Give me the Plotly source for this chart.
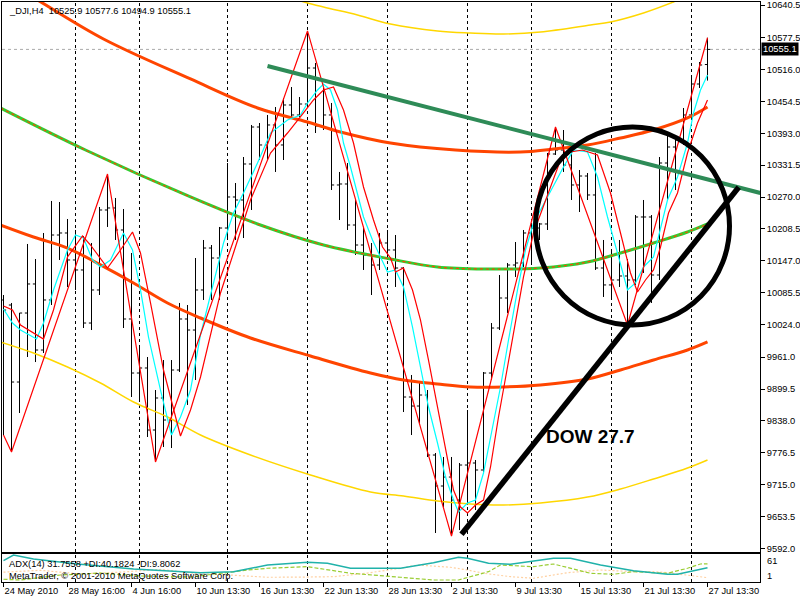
import plotly.graph_objects as go

# ---------------- data (H4 bars, index 0..88) ----------------
bar_open = [10071.4, 10061.7, 9913.0, 10046.2, 10102.3, 9974.8, 10071.4, 10196.8, 10200.7, 10148.6,
            10129.3, 10026.9, 10090.7, 10245.1, 10249.0, 10206.5, 10034.7, 9930.4, 9940.1, 9820.4,
            9882.2, 9839.7, 9936.2, 10034.7, 10013.4, 10090.7, 10171.7, 10152.4, 10210.3, 10270.2,
            10264.4, 10333.9, 10405.3, 10370.6, 10409.2, 10370.6, 10447.8, 10428.5, 10449.7, 10519.2,
            10407.3, 10428.5, 10293.4, 10295.3, 10216.1, 10177.5, 10158.2, 10138.9, 10181.4, 10167.9,
            10133.1, 9884.1, 9866.7, 9887.9, 9772.1, 9712.3, 9729.6, 9685.2, 9752.8, 9756.7,
            9743.2, 9930.4, 10017.3, 10075.2, 10138.9, 10142.8, 10200.7, 10210.3, 10218.1, 10353.2,
            10360.9, 10332.0, 10293.4, 10310.7, 10274.1, 10133.1, 10100.4, 10110.0, 10117.7, 10110.0,
            10231.6, 10231.6, 10119.6, 10335.8, 10366.7, 10380.2, 10428.5, 10488.3, 10525.9]
bar_high = [10081.0, 10065.6, 10046.2, 10179.5, 10150.5, 10200.7, 10262.5, 10260.5, 10227.7, 10206.5,
            10194.9, 10181.4, 10250.9, 10314.6, 10268.3, 10247.0, 10162.1, 9984.5, 9961.3, 9897.6,
            9955.5, 9955.5, 10065.6, 10061.7, 10152.4, 10187.2, 10177.5, 10212.3, 10335.8, 10297.2,
            10347.4, 10409.2, 10413.0, 10428.5, 10443.9, 10461.3, 10482.5, 10463.2, 10590.7, 10528.9,
            10480.6, 10451.7, 10318.5, 10335.8, 10264.4, 10212.3, 10181.4, 10200.7, 10206.5, 10196.8,
            10135.1, 9926.6, 9911.1, 9897.6, 9776.0, 9768.3, 9768.3, 9756.7, 9859.0, 9762.5,
            9932.3, 10026.9, 10119.6, 10142.8, 10183.3, 10206.5, 10220.0, 10220.0, 10355.1, 10405.3,
            10399.5, 10364.8, 10322.3, 10316.5, 10355.1, 10187.2, 10167.9, 10187.2, 10150.5, 10235.4,
            10264.4, 10235.4, 10347.4, 10395.7, 10389.9, 10442.0, 10499.9, 10530.8, 10577.6]
bar_low = [9810.7, 9777.9, 9853.2, 9961.3, 9951.6, 9969.0, 10061.7, 10148.6, 10096.5, 10090.7,
           10017.3, 10013.4, 10081.0, 10212.3, 10187.2, 10017.3, 9884.1, 9878.3, 9806.9, 9758.6,
           9787.6, 9785.6, 9932.3, 9868.7, 9916.9, 10071.4, 10071.4, 10071.4, 10187.2, 10187.2,
           10191.0, 10245.1, 10341.6, 10341.6, 10318.5, 10341.6, 10424.6, 10424.6, 10442.0, 10393.7,
           10399.5, 10283.7, 10225.8, 10206.5, 10158.2, 10129.3, 10081.0, 10129.3, 10148.6, 10096.5,
           9855.1, 9810.7, 9833.9, 9768.3, 9621.6, 9671.7, 9615.7, 9627.3, 9675.6, 9665.9,
           9737.4, 9916.9, 10013.4, 10046.2, 10115.8, 10135.1, 10138.9, 10187.2, 10206.5, 10351.3,
           10318.5, 10264.4, 10241.2, 10264.4, 10129.3, 10077.2, 10071.4, 10096.5, 10023.1, 10100.4,
           10123.5, 10065.6, 10110.0, 10264.4, 10283.7, 10370.6, 10424.6, 10480.6, 10494.9]
bar_close = [10052.0, 9913.0, 10046.2, 10102.3, 9974.8, 10071.4, 10196.8, 10200.7, 10148.6, 10129.3,
             10026.9, 10090.7, 10245.1, 10249.0, 10206.5, 10034.7, 9930.4, 9940.1, 9820.4, 9882.2,
             9839.7, 9936.2, 10034.7, 10013.4, 10090.7, 10171.7, 10152.4, 10210.3, 10270.2, 10264.4,
             10333.9, 10405.3, 10370.6, 10409.2, 10370.6, 10447.8, 10428.5, 10449.7, 10519.2, 10407.3,
             10428.5, 10293.4, 10295.3, 10216.1, 10177.5, 10158.2, 10138.9, 10181.4, 10167.9, 10133.1,
             9884.1, 9866.7, 9887.9, 9772.1, 9712.3, 9729.6, 9685.2, 9752.8, 9756.7, 9743.2,
             9930.4, 10017.3, 10075.2, 10138.9, 10142.8, 10200.7, 10210.3, 10218.1, 10353.2, 10360.9,
             10332.0, 10293.4, 10310.7, 10274.1, 10133.1, 10100.4, 10110.0, 10117.7, 10110.0, 10231.6,
             10231.6, 10119.6, 10335.8, 10366.7, 10380.2, 10428.5, 10488.3, 10525.0, 10555.1]
bar_idx = list(range(len(bar_close)))

# fast MA (cyan)
cyan_x = [0, 1.125, 2.125, 4.125, 5, 6.25, 8, 9, 10, 11.125, 12.125, 13.375, 15, 16.125, 17.125, 18.125,
          19.625, 21, 22.125, 23.375, 24.625, 25.875, 27.5, 28.75, 30, 31.75, 33.375, 35.5, 37.125, 38,
          39.25, 40, 40.875, 41.75, 42.5, 43.375, 44.25, 45, 46.125, 47.125, 48, 49, 50, 51.125, 52.125,
          53.125, 54.25, 55.25, 56.25, 56.875, 58, 59, 60, 61.125, 62.125, 63.125, 64.25, 65.25, 66.25,
          68, 70, 71.25, 73, 74.25, 75.5, 76.75, 78, 79, 80, 81.25, 82.125, 83, 84.25, 85.5, 86.25,
          87.125, 88]
cyan_y = [10054.0, 10026.9, 10013.4, 9996.1, 10026.9, 10090.7, 10167.9, 10196.8, 10191.0, 10148.6,
          10135.1, 10148.6, 10200.7, 10167.9, 10090.7, 9999.9, 9897.6, 9810.7, 9845.5, 9897.6, 10003.8,
          10081.0, 10181.4, 10239.3, 10277.9, 10335.8, 10393.7, 10418.8, 10428.5, 10451.7, 10476.8,
          10488.3, 10476.8, 10438.1, 10374.4, 10328.1, 10277.9, 10231.6, 10187.2, 10154.4, 10125.4,
          10129.3, 10096.5, 10019.2, 9942.0, 9864.8, 9795.3, 9729.6, 9685.2, 9662.1, 9679.5, 9685.2,
          9737.4, 9826.2, 9903.4, 9994.1, 10090.7, 10167.9, 10220.0, 10270.2, 10328.1, 10360.9,
          10357.1, 10308.8, 10231.6, 10162.1, 10090.7, 10104.2, 10135.1, 10154.4, 10212.3, 10264.4,
          10308.8, 10374.4, 10432.4, 10476.8, 10505.7]

# slow MA (red)
red_x = [0, 1.125, 2.125, 3.75, 5, 6.25, 8, 9.875, 10.875, 13, 14.625, 16.125, 17.125, 18.375, 20,
         22.125, 23.375, 24.625, 27.125, 28.75, 30.875, 33.375, 35.5, 37.5, 38.75, 40, 41.25, 42.5,
         43.75, 45, 46.25, 47.375, 48.375, 49, 50, 51.125, 52.125, 53.125, 54.25, 55.25, 56.25,
         57.125, 58, 59, 60, 60.875, 61.875, 63, 64, 65, 66.25, 68, 69.625, 70.875, 72.375, 74.25,
         75.875, 77.125, 78.375, 79.25, 80.25, 81.25, 82.125, 83.125, 84.25, 85.5, 86.75, 88]
red_y = [10059.8, 10052.0, 10023.1, 10007.6, 9996.1, 10052.0, 10154.4, 10194.9, 10177.5, 10133.1,
         10167.9, 10202.6, 10162.1, 10065.6, 9936.2, 9808.8, 9859.0, 9922.7, 10084.9, 10162.1,
         10264.4, 10355.1, 10393.7, 10432.4, 10457.5, 10476.8, 10482.5, 10438.1, 10374.4, 10289.5,
         10225.8, 10173.7, 10152.4, 10125.4, 10133.1, 10090.7, 10032.7, 9955.5, 9864.8, 9781.8,
         9704.6, 9671.7, 9660.1, 9675.6, 9685.2, 9749.0, 9845.5, 9942.0, 10032.7, 10115.8, 10200.7,
         10274.1, 10341.6, 10357.1, 10360.9, 10351.3, 10277.9, 10200.7, 10123.5, 10086.8, 10110.0,
         10129.3, 10173.7, 10239.3, 10277.9, 10355.1, 10413.0, 10457.5]

# zigzag swing points
zz_x = [0, 1, 13, 19, 38, 56, 69, 78, 88]
zz_y = [9810.7, 9777.9, 10314.6, 9758.6, 10590.7, 9615.7, 10405.3, 10023.1, 10577.6]

# polynomial regression channel
mid_x = [-0.375, 10.25, 23.375, 31.75, 40, 48.375, 54.25, 60.25, 67.125, 73, 77.125, 81.25, 85.5, 88]
mid_y = [10442.0, 10360.9, 10270.2, 10218.1, 10177.5, 10150.5, 10135.1, 10131.2, 10133.1, 10144.7,
         10162.1, 10181.4, 10202.6, 10218.1]
up1_x = [-0.375, 4.25, 12.5, 23.375, 31.75, 38, 42.125, 48.375, 56.5, 64.625, 68.75, 73, 77.125,
         81.25, 85.5, 88]
up1_y = [10693.0, 10650.5, 10575.2, 10498.0, 10442.0, 10415.0, 10395.7, 10374.4, 10360.9, 10357.1,
         10362.9, 10370.6, 10384.1, 10399.5, 10422.7, 10443.9]
lo1_x = [-0.375, 3.75, 8, 12.125, 16.25, 20.5, 24.625, 30.875, 38.375, 45.875, 50, 54.25, 58.375,
         62.5, 67.125, 73, 77.125, 81.25, 85.5, 88]
lo1_y = [10216.1, 10193.0, 10171.7, 10139.1, 10104.2, 10065.6, 10036.6, 9998.0, 9963.2, 9930.4,
         9916.9, 9909.2, 9903.4, 9903.4, 9907.3, 9918.8, 9936.2, 9955.5, 9974.8, 9990.3]
up2_x = [30.875, 37.125, 40, 44.25, 48.375, 54.25, 58.375, 62.5, 67.125, 73.375, 75.875, 80, 83.75, 88]
up2_y = [10685.2, 10648.6, 10637.0, 10621.5, 10604.2, 10590.7, 10586.8, 10584.9, 10588.7, 10602.2,
         10608.0, 10625.4, 10646.6, 10673.7]
lo2_x = [-0.375, 3.75, 8, 12.125, 16.25, 20.5, 24.625, 30.875, 38.375, 45.875, 50, 54.25, 58.375,
         62.5, 67.125, 73, 77.125, 81.25, 85.5, 88]
lo2_y = [9990.3, 9969.0, 9942.0, 9911.1, 9874.4, 9845.5, 9810.7, 9772.1, 9733.5, 9700.7, 9693.0,
         9683.3, 9677.5, 9675.6, 9679.5, 9691.0, 9706.5, 9725.8, 9747.0, 9762.5]

# ADX(14) panel
adx_x = [0, 1.25, 3.75, 9.25, 16.25, 24.625, 28.75, 33, 38, 40.5, 43.375, 49.625, 53.75, 56.875, 58,
         60.625, 63.375, 66.25, 68.75, 70.875, 74.625, 78.75, 83, 84.25, 85.875, 88]
adx_y = [47.2, 59.7, 50.9, 39.9, 28.9, 20.8, 23.0, 37.7, 43.7, 41.5, 30.5, 30.5, 42.8, 54.7, 52.5,
         41.5, 39.3, 46.5, 52.5, 52.5, 37.7, 25.2, 17.3, 17.3, 23.0, 31.7558]
pdi_x = [0, 2.125, 7.125, 12.125, 17.125, 23.375, 30.5, 33, 38, 40.5, 43.375, 49.625, 53.75, 56.875,
         58, 60.625, 62.125, 66.25, 68.75, 70.875, 73.375, 76.25, 78.75, 81.25, 83, 85.5, 87.125, 88]
pdi_y = [6.3, 4.7, 15.7, 20.0, 13.5, 11.3, 26.7, 30.5, 34.0, 26.7, 19.5, 10.7, 4.7, 4.7, 9.8, 23.0,
         37.7, 34.0, 39.9, 30.5, 19.5, 17.3, 23.0, 20.8, 19.5, 30.5, 39.9, 40.1824]
mdi_x = [0, 4.625, 9.625, 14.625, 19.625, 24.625, 26.75, 33, 37.125, 41.25, 45.5, 49.625, 51.75,
         53.75, 55.875, 58, 60, 63.375, 66.25, 70.5, 74.625, 78.75, 81.25, 83, 85.5, 88]
mdi_y = [22.0, 26.0, 18.0, 22.0, 28.0, 18.0, 17.3, 10.7, 11.0, 12.0, 20.0, 30.5, 37.7, 35.5, 32.7,
         26.7, 19.5, 12.0, 8.5, 20.8, 26.7, 23.0, 23.0, 20.8, 15.7, 9.8062]

# axis labels
tick_idx = [0, 8, 16, 24, 32, 40, 48, 56, 64, 72, 80, 88]
tick_text = ["24 May 2010", "28 May 16:00", "4 Jun 16:00", "10 Jun 13:30", "16 Jun 13:30",
             "22 Jun 13:30", "28 Jun 13:30", "2 Jul 13:30", "9 Jul 13:30", "15 Jul 13:30",
             "21 Jul 13:30", "27 Jul 13:30"]
price_ticks = [9592.0, 9653.5, 9715.0, 9776.5, 9838.0, 9899.5, 9961.0, 10024.0, 10085.5, 10147.0,
               10208.5, 10270.0, 10331.5, 10393.0, 10454.5, 10516.0, 10577.5, 10640.5]
week_sep_idx = [9, 17, 28, 38, 48, 58, 66, 76, 86]
last_price = 10555.1

# hand-drawn objects (bar index, price)
green_line = [(33.0, 10523.1), (94.6, 10277.9)]
black_line = [(57.25, 9619.0), (91.9, 10288.9)]
circle_box = [(66.5, 10023.1), (90.75, 10405.3)]
dow_label = (67.5, 9808.8)

# ---------------- layout helpers ----------------
W, H = 800, 600
ML, MR, MT, MB = 2, 40, 2, 18
PW, PH = W - ML - MR, H - MT - MB


def px_x(px):
    return (px - ML) / PW


def px_y(py):
    return (H - MB - py) / PH


FONT = "Liberation Sans, Arial, sans-serif"
FS = 9.3
XR = [-0.1875, 94.5625]

fig = go.Figure()

fig.add_trace(go.Ohlc(x=bar_idx, open=bar_open, high=bar_high, low=bar_low, close=bar_close,
                      xaxis="x2", yaxis="y", tickwidth=0.33, hoverinfo="skip",
                      increasing=dict(line=dict(color="black", width=1)),
                      decreasing=dict(line=dict(color="black", width=1))))


def add_line(xs, ys, color, width, dash="solid", shape="linear", xa="x2", ya="y"):
    fig.add_trace(go.Scatter(x=xs, y=ys, mode="lines", xaxis=xa, yaxis=ya, hoverinfo="skip",
                             line=dict(color=color, width=width, dash=dash, shape=shape)))


add_line(up2_x, up2_y, "#FFD700", 1.5, shape="spline")
add_line(lo2_x, lo2_y, "#FFD700", 1.5, shape="spline")
add_line(up1_x, up1_y, "#FF4500", 3, shape="spline")
add_line(lo1_x, lo1_y, "#FF4500", 3, shape="spline")
add_line(mid_x, mid_y, "#32CD32", 3, shape="spline")
add_line(mid_x, mid_y, "#FF4500", 1.2, dash="3px,3px", shape="spline")
add_line(cyan_x, cyan_y, "#00FFFF", 1.2)
add_line(red_x, red_y, "#FF0000", 1.2)
add_line(zz_x, zz_y, "#FF0000", 1.2)

add_line(mdi_x, mdi_y, "#FFD0A0", 1.2, dash="2px,2px", xa="x", ya="y2")
add_line(pdi_x, pdi_y, "#9ACD32", 1.2, dash="4px,2px", xa="x", ya="y2")
add_line(adx_x, adx_y, "#20B2AA", 1.5, xa="x", ya="y2")

shapes = []
for s in week_sep_idx:
    for xr, yr in (("x2", "y domain"), ("x", "y2 domain")):
        shapes.append(dict(type="line", xref=xr, yref=yr, x0=s, x1=s, y0=0, y1=1, layer="below",
                           line=dict(color="black", width=1, dash="3px,3px")))
shapes.append(dict(type="line", xref="x2 domain", yref="y", x0=0, x1=1, y0=last_price, y1=last_price,
                   layer="below", line=dict(color="#AAAAAA", width=1, dash="dot")))
shapes.append(dict(type="line", xref="x2", yref="y", x0=green_line[0][0], y0=green_line[0][1],
                   x1=green_line[1][0], y1=green_line[1][1], line=dict(color="#2E8B57", width=4)))
shapes.append(dict(type="line", xref="x2", yref="y", x0=black_line[0][0], y0=black_line[0][1],
                   x1=black_line[1][0], y1=black_line[1][1], line=dict(color="black", width=5.5)))
shapes.append(dict(type="circle", xref="x2", yref="y", x0=circle_box[0][0], y0=circle_box[0][1],
                   x1=circle_box[1][0], y1=circle_box[1][1], line=dict(color="black", width=5)))

annotations = [
    dict(xref="paper", yref="paper", x=px_x(7), y=px_y(10.5), xanchor="left", yanchor="middle",
         text="_DJI,H4  10525.9 10577.6 10494.9 10555.1", showarrow=False,
         font=dict(family=FONT, size=FS, color="black")),
    dict(xref="paper", yref="paper", x=px_x(7), y=px_y(563.5), xanchor="left", yanchor="middle",
         text="ADX(14) 31.7558 +DI:40.1824 -DI:9.8062", showarrow=False,
         font=dict(family=FONT, size=FS, color="black")),
    dict(xref="paper", yref="paper", x=px_x(7), y=px_y(575.5), xanchor="left", yanchor="middle",
         text="MetaTrader, © 2001-2010 MetaQuotes Software Corp.", showarrow=False,
         font=dict(family=FONT, size=FS, color="black")),
    dict(xref="paper", yref="paper", x=px_x(765), y=px_y(561), xanchor="left", yanchor="middle",
         text="61", showarrow=False, font=dict(family=FONT, size=FS, color="black")),
    dict(xref="paper", yref="paper", x=px_x(765), y=px_y(576), xanchor="left", yanchor="middle",
         text="1", showarrow=False, font=dict(family=FONT, size=FS, color="black")),
    dict(xref="paper", yref="y", x=px_x(761), y=last_price, xanchor="left", yanchor="middle",
         text="10555.1", showarrow=False, bgcolor="black", borderpad=1,
         font=dict(family=FONT, size=FS, color="white")),
    dict(xref="x2", yref="y", x=dow_label[0], y=dow_label[1], xanchor="left", yanchor="middle",
         text="<b>DOW 27.7</b>", showarrow=False,
         font=dict(family=FONT, size=19, color="black")),
]

fig.update_layout(
    width=W, height=H, margin=dict(l=ML, r=MR, t=MT, b=MB),
    paper_bgcolor="white", plot_bgcolor="white", showlegend=False,
    font=dict(family=FONT, size=FS, color="black"),
    xaxis=dict(domain=[0, 1], anchor="y2", range=XR, tickmode="array", tickvals=tick_idx,
               ticktext=tick_text, ticks="outside", ticklen=4, tickcolor="black", tickangle=0,
               ticklabelposition="outside right", ticklabeloverflow="allow", showline=True,
               mirror=True, linecolor="black",
               linewidth=1, showgrid=False, zeroline=False, automargin=False,
               rangeslider=dict(visible=False), tickfont=dict(family=FONT, size=FS, color="black")),
    xaxis2=dict(domain=[0, 1], anchor="y", range=XR, showticklabels=False, ticks="",
                showline=True, mirror=True, linecolor="black", linewidth=1, showgrid=False,
                zeroline=False, rangeslider=dict(visible=False)),
    yaxis=dict(domain=[px_y(552), 1], anchor="x2", side="right", range=[9584.9, 10646.6],
               tickmode="array", tickvals=price_ticks, ticktext=[f"{v:.1f}" for v in price_ticks],
               ticks="outside", ticklen=4, tickcolor="black", ticklabeloverflow="allow",
               showline=True, mirror=True,
               linecolor="black", linewidth=1, showgrid=False, zeroline=False, automargin=False,
               tickfont=dict(family=FONT, size=FS, color="black")),
    yaxis2=dict(domain=[0, px_y(554)], anchor="x", side="right", range=[0.3, 61.9],
                showticklabels=False, ticks="", showline=True, mirror=True, linecolor="black",
                linewidth=1, showgrid=False, zeroline=False),
    shapes=shapes, annotations=annotations,
)

fig.write_html("out.html", config={"displayModeBar": False},
               post_script="document.body.style.margin='0';document.body.style.overflow='hidden';")
